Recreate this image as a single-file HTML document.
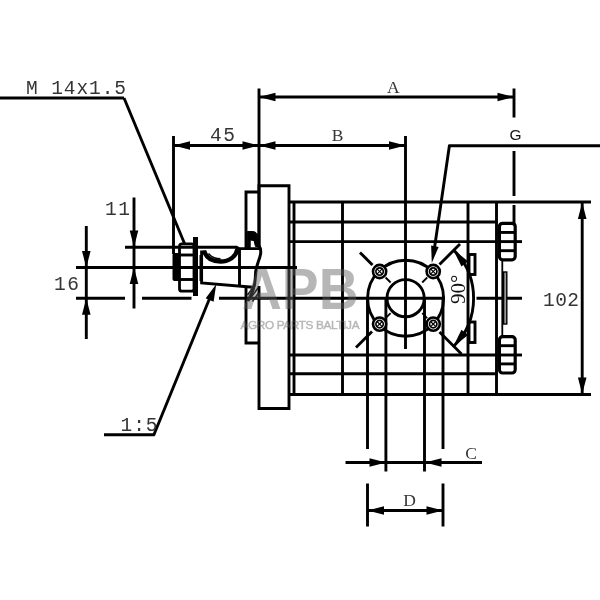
<!DOCTYPE html>
<html lang="lt">
<head>
<meta charset="utf-8">
<title>Hydraulic gear pump drawing</title>
<style>
html,body{margin:0;padding:0;background:#fff;}
body{width:600px;height:600px;overflow:hidden;font-family:"Liberation Sans",sans-serif;}
svg{display:block;filter:grayscale(100%);}
</style>
</head>
<body>
<svg width="600" height="600" viewBox="0 0 600 600">
<rect x="0" y="0" width="600" height="600" fill="#fff"/>
<g fill="none" stroke="#000" stroke-width="2.9" stroke-linecap="butt" stroke-linejoin="miter">
<line x1="259" y1="97" x2="514" y2="97" stroke-width="2.9" />
<polygon points="259.00,97.00 275.50,92.70 275.50,101.30" fill="#000" stroke="none"/>
<polygon points="514.00,97.00 497.50,101.30 497.50,92.70" fill="#000" stroke="none"/>
<line x1="259" y1="88.5" x2="259" y2="248" stroke-width="2.9" />
<line x1="514" y1="88.5" x2="514" y2="117.5" stroke-width="2.9" />
<line x1="514" y1="151" x2="514" y2="196" stroke-width="2.9" />
<line x1="514" y1="205" x2="514" y2="224" stroke-width="2.9" />
<line x1="173.5" y1="145.5" x2="405.5" y2="145.5" stroke-width="2.9" />
<polygon points="173.50,145.50 190.00,141.20 190.00,149.80" fill="#000" stroke="none"/>
<polygon points="259.00,145.50 242.50,149.80 242.50,141.20" fill="#000" stroke="none"/>
<polygon points="259.00,145.50 275.50,141.20 275.50,149.80" fill="#000" stroke="none"/>
<polygon points="405.50,145.50 389.00,149.80 389.00,141.20" fill="#000" stroke="none"/>
<line x1="173.5" y1="136" x2="173.5" y2="254" stroke-width="2.9" />
<line x1="405.5" y1="136" x2="405.5" y2="349" stroke-width="2.9" />
<line x1="448.6" y1="145.8" x2="600" y2="145.8" stroke-width="2.9" />
<line x1="449.5" y1="145" x2="434.2" y2="250" stroke-width="2.9" />
<polygon points="431.80,263.00 431.13,245.59 438.60,246.96" fill="#000" stroke="none"/>
<line x1="0" y1="98" x2="124" y2="98" stroke-width="2.9" />
<line x1="124" y1="98" x2="184.5" y2="243.5" stroke-width="2.9" />
<line x1="104" y1="434.7" x2="154.6" y2="434.7" stroke-width="2.9" />
<line x1="153.6" y1="435.5" x2="210.6" y2="296" stroke-width="2.9" />
<polygon points="216.20,284.30 213.61,301.64 205.67,298.32" fill="#000" stroke="none"/>
<line x1="134" y1="197.5" x2="134" y2="308.5" stroke-width="2.9" />
<polygon points="134.00,247.00 129.70,230.50 138.30,230.50" fill="#000" stroke="none"/>
<polygon points="134.00,267.50 138.30,284.00 129.70,284.00" fill="#000" stroke="none"/>
<line x1="125" y1="247.2" x2="237" y2="247.2" stroke-width="2.9" />
<line x1="86.3" y1="226" x2="86.3" y2="339" stroke-width="2.9" />
<polygon points="86.30,267.50 82.00,251.00 90.60,251.00" fill="#000" stroke="none"/>
<polygon points="86.30,298.20 90.60,314.70 82.00,314.70" fill="#000" stroke="none"/>
<line x1="76" y1="267.5" x2="297" y2="267.5" stroke-width="2.9" />
<line x1="76" y1="298.2" x2="125" y2="298.2" stroke-width="2.9" />
<line x1="142" y1="298.2" x2="191.5" y2="298.2" stroke-width="2.9" />
<line x1="219" y1="298.2" x2="445" y2="298.2" stroke-width="2.9" />
<line x1="476.5" y1="298.2" x2="522" y2="298.2" stroke-width="2.9" />
<line x1="582.2" y1="202" x2="582.2" y2="394.5" stroke-width="2.9" />
<polygon points="582.20,202.50 586.50,219.00 577.90,219.00" fill="#000" stroke="none"/>
<polygon points="582.20,394.00 577.90,377.50 586.50,377.50" fill="#000" stroke="none"/>
<line x1="345.5" y1="462.5" x2="482" y2="462.5" stroke-width="2.9" />
<polygon points="386.00,462.50 369.50,466.80 369.50,458.20" fill="#000" stroke="none"/>
<polygon points="425.00,462.50 441.50,458.20 441.50,466.80" fill="#000" stroke="none"/>
<line x1="385.9" y1="298" x2="385.9" y2="471.5" stroke-width="2.9" />
<line x1="424.5" y1="298" x2="424.5" y2="471.5" stroke-width="2.9" />
<line x1="367.5" y1="510.5" x2="443" y2="510.5" stroke-width="2.9" />
<polygon points="367.50,510.50 384.00,506.20 384.00,514.80" fill="#000" stroke="none"/>
<polygon points="443.00,510.50 426.50,514.80 426.50,506.20" fill="#000" stroke="none"/>
<line x1="367.5" y1="298" x2="367.5" y2="449" stroke-width="2.9" />
<line x1="443" y1="298" x2="443" y2="449" stroke-width="2.9" />
<line x1="367.5" y1="483.5" x2="367.5" y2="526.5" stroke-width="2.9" />
<line x1="443" y1="483.5" x2="443" y2="526.5" stroke-width="2.9" />
<path d="M259,192 H246 V248.6 M246,288 V343 H259" />
<path d="M259,246 V185.7 H289 V408.5 H259 V286" />
<line x1="288" y1="202" x2="591" y2="202" stroke-width="2.9" />
<line x1="288" y1="394.5" x2="591" y2="394.5" stroke-width="2.9" />
<line x1="294" y1="202" x2="294" y2="394.5" stroke-width="2.9" />
<line x1="289" y1="222" x2="496.5" y2="222" stroke-width="2.9" />
<line x1="289" y1="241.6" x2="496.5" y2="241.6" stroke-width="2.9" />
<line x1="289" y1="355" x2="496.5" y2="355" stroke-width="2.9" />
<line x1="289" y1="373.8" x2="496.5" y2="373.8" stroke-width="2.9" />
<line x1="496" y1="241.6" x2="522" y2="241.6" stroke-width="2.9" />
<line x1="496" y1="355" x2="522" y2="355" stroke-width="2.9" />
<line x1="342.5" y1="202" x2="342.5" y2="394.5" stroke-width="2.9" />
<line x1="468" y1="202" x2="468" y2="394.5" stroke-width="2.9" />
<line x1="496.5" y1="202" x2="496.5" y2="394.5" stroke-width="2.9" />
<circle cx="405.6" cy="298.2" r="18.6" />
<circle cx="405.6" cy="298.2" r="38" />
<circle cx="379.59999999999997" cy="271.5" r="6.6" fill="#fff" stroke-width="2.6" />
<circle cx="379.59999999999997" cy="271.5" r="3.7" stroke-width="1.7" />
<line x1="376.99999999999994" y1="268.9" x2="382.2" y2="274.1" stroke-width="1.2" />
<line x1="376.99999999999994" y1="274.1" x2="382.2" y2="268.9" stroke-width="1.2" />
<line x1="385.59999999999997" y1="277.5" x2="390.59999999999997" y2="282.5" stroke-width="1.8" />
<circle cx="379.59999999999997" cy="324.1" r="6.6" fill="#fff" stroke-width="2.6" />
<circle cx="379.59999999999997" cy="324.1" r="3.7" stroke-width="1.7" />
<line x1="376.99999999999994" y1="321.5" x2="382.2" y2="326.70000000000005" stroke-width="1.2" />
<line x1="376.99999999999994" y1="326.70000000000005" x2="382.2" y2="321.5" stroke-width="1.2" />
<line x1="385.59999999999997" y1="318.1" x2="390.59999999999997" y2="313.1" stroke-width="1.8" />
<circle cx="433.2" cy="271.5" r="6.6" fill="#fff" stroke-width="2.6" />
<circle cx="433.2" cy="271.5" r="3.7" stroke-width="1.7" />
<line x1="430.59999999999997" y1="268.9" x2="435.8" y2="274.1" stroke-width="1.2" />
<line x1="430.59999999999997" y1="274.1" x2="435.8" y2="268.9" stroke-width="1.2" />
<line x1="427.2" y1="277.5" x2="422.2" y2="282.5" stroke-width="1.8" />
<circle cx="433.2" cy="324.1" r="6.6" fill="#fff" stroke-width="2.6" />
<circle cx="433.2" cy="324.1" r="3.7" stroke-width="1.7" />
<line x1="430.59999999999997" y1="321.5" x2="435.8" y2="326.70000000000005" stroke-width="1.2" />
<line x1="430.59999999999997" y1="326.70000000000005" x2="435.8" y2="321.5" stroke-width="1.2" />
<line x1="427.2" y1="318.1" x2="422.2" y2="313.1" stroke-width="1.8" />
<line x1="372.5" y1="265" x2="360" y2="252.5" stroke-width="2.9" />
<line x1="439.5" y1="264.5" x2="460" y2="244" stroke-width="2.9" />
<line x1="372" y1="331.5" x2="356" y2="347.5" stroke-width="2.9" />
<line x1="439.5" y1="332" x2="461.5" y2="354" stroke-width="2.9" />
<path d="M453.68,250.12 A68,68 0 0 1 453.68,346.28" />
<polygon points="452.88,249.12 468.03,261.33 461.47,266.58" fill="#000" stroke="none"/>
<polygon points="452.88,347.28 461.47,329.82 468.03,335.07" fill="#000" stroke="none"/>
<rect x="469" y="254.5" width="6" height="20" />
<rect x="469" y="322" width="6" height="20.5" />
<rect x="499.4" y="223.3" width="15.8" height="36.5" rx="3.2" ry="3.2" stroke-width="3.2" />
<line x1="500" y1="232.425" x2="514.5" y2="232.425" stroke-width="2.9" />
<line x1="500" y1="250.675" x2="514.5" y2="250.675" stroke-width="2.9" />
<rect x="499.4" y="336.6" width="15.8" height="36.39999999999998" rx="3.2" ry="3.2" stroke-width="3.2" />
<line x1="500" y1="345.70000000000005" x2="514.5" y2="345.70000000000005" stroke-width="2.9" />
<line x1="500" y1="363.9" x2="514.5" y2="363.9" stroke-width="2.9" />
<line x1="502.3" y1="259" x2="502.3" y2="337" stroke-width="1.8" />
<rect x="503.6" y="272" width="3.2" height="52" fill="#999" stroke-width="1.4"/>
<rect x="172.5" y="253" width="7.5" height="28" rx="2" fill="#000" stroke="none"/>
<rect x="179.5" y="243.8" width="14.5" height="47.4" rx="2.5" stroke-width="2.8" />
<line x1="180" y1="255" x2="194" y2="255" stroke-width="2.9" />
<line x1="180" y1="279.5" x2="194" y2="279.5" stroke-width="2.9" />
<rect x="193" y="237" width="5" height="59" fill="#000" stroke="none"/>
<line x1="200.2" y1="255" x2="200.2" y2="281" stroke-width="1.4" />
<path d="M204.5,252 H201.6 V283 L253,287.2" />
<path d="M204,250.5 C206,258 212,261.5 220.5,261.5 C229,261.5 236,257 237.5,249" stroke-width="4.4" />
<path d="M208.5,253.5 C212,258 216,258.8 220.5,258.8" stroke-width="1.4" />
<path d="M236,247.2 Q238.6,247.4 238.6,250" />
<path d="M239.5,286.5 V248.6 H259" />
<path d="M259,246 C262.5,250 260.5,256 258.5,261 C256.5,266 255.3,272 255.3,278 C255.3,284 253,292 247.8,301" stroke-width="3"/>
<path d="M247.3,231.5 H252 C257,231.5 258.2,235 258,239 L258,246.5 L255.5,246.5 L254,240.5 L250.2,240 L250.2,247.5 H247.3 Z" fill="#000" stroke-width="1"/>
<line x1="249" y1="300" x2="258.8" y2="287" stroke-width="1.6" />
<line x1="247.5" y1="295" x2="253" y2="287.5" stroke-width="1.4" />
<line x1="252.5" y1="301.5" x2="258.5" y2="293" stroke-width="1.4" />
</g>
<g id="labels" opacity="0.99">
<text x="26" y="94" font-family='"Liberation Mono", monospace' font-size="19.5" textLength="100" lengthAdjust="spacing" fill="#333">M 14x1.5</text>
<text x="210" y="141" font-family='"Liberation Mono", monospace' font-size="19.5" textLength="25" lengthAdjust="spacing" fill="#333">45</text>
<text x="105" y="215" font-family='"Liberation Mono", monospace' font-size="19.5" textLength="25" lengthAdjust="spacing" fill="#333">11</text>
<text x="54" y="290" font-family='"Liberation Mono", monospace' font-size="19.5" textLength="25" lengthAdjust="spacing" fill="#333">16</text>
<text x="543" y="306" font-family='"Liberation Mono", monospace' font-size="19.5" textLength="36" lengthAdjust="spacing" fill="#333">102</text>
<text x="120.5" y="431" font-family='"Liberation Mono", monospace' font-size="19.5" textLength="37" lengthAdjust="spacing" fill="#333">1:5</text>
<text x="393.3" y="92.8" font-family='"Liberation Serif", serif' font-size="17.5" text-anchor="middle" fill="#333">A</text>
<text x="337.5" y="141" font-family='"Liberation Serif", serif' font-size="17.5" text-anchor="middle" fill="#333">B</text>
<text x="471" y="458.8" font-family='"Liberation Serif", serif' font-size="17.5" text-anchor="middle" fill="#333">C</text>
<text x="409.5" y="506.3" font-family='"Liberation Serif", serif' font-size="17.5" text-anchor="middle" fill="#333">D</text>
<text x="515.5" y="140" font-family='"Liberation Sans", sans-serif' font-size="15.5" text-anchor="middle" fill="#111">G</text>
<text transform="translate(465,304) rotate(-90)" font-family='"Liberation Serif", serif' font-size="21" fill="#111">90°</text>
</g>
<g id="watermark" opacity="0.45" fill="#606060">
<text x="242" y="308.8" font-family='"Liberation Sans", sans-serif' font-weight="bold" font-size="56.7" textLength="116.5" lengthAdjust="spacingAndGlyphs">APB</text>
<text x="240.5" y="328.7" font-family='"Liberation Sans", sans-serif' font-size="11.8" textLength="119" lengthAdjust="spacing" stroke="#606060" stroke-width="0.45">AGRO PARTS BALTIJA</text>
</g>
</svg>
</body>
</html>
